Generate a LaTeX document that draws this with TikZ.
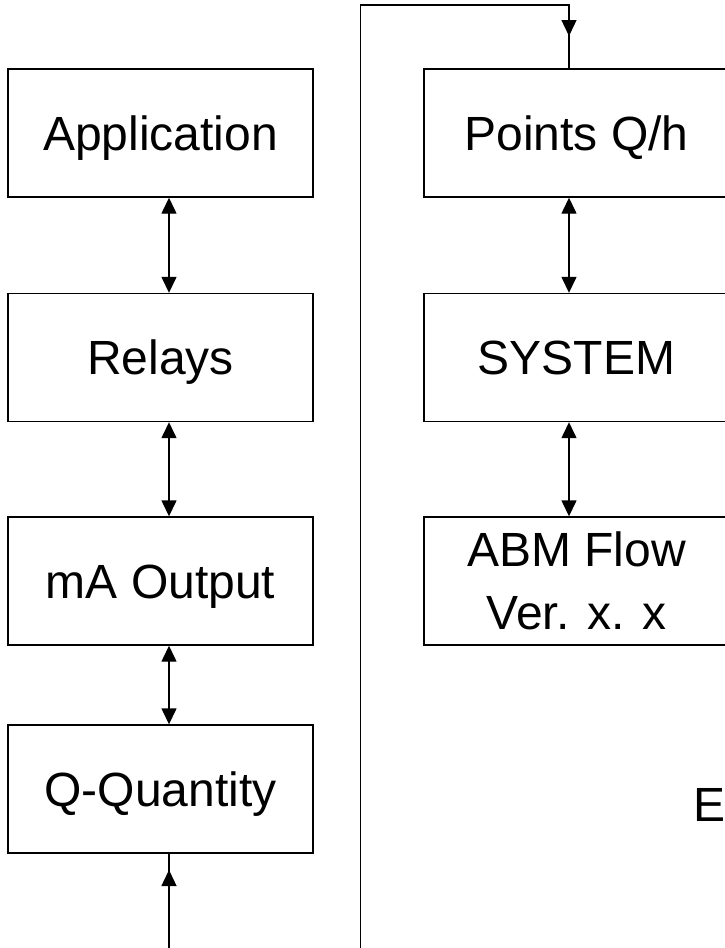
\documentclass[tikz,border=0pt]{standalone}
\usepackage{fontspec}
\setmainfont{Liberation Sans}
\usetikzlibrary{arrows.meta}
\begin{document}
\begin{tikzpicture}[x=1pt,y=-1pt,
  label font/.style={font=\fontsize{48}{63}\selectfont},
  block/.style={draw,line width=1.4pt,minimum width=305pt,minimum height=128pt,
    inner sep=0pt,align=center,label font},
  oneline/.style={block,text height=34.4pt,text depth=0pt},
  wire/.style={line width=1.4pt},
  tip/.style={wire,-{Triangle[length=16pt,width=15pt]}},
  dbl/.style={wire,{Triangle[length=16pt,width=15pt]}-{Triangle[length=16pt,width=15pt]}}]
\useasboundingbox (0,0) rectangle (725,948);

% left column
\node[oneline] (app) at (160.5,133) {Application};
\node[oneline] (rel) at (160.5,357.5) {Relays};
\node[oneline] (mao) at (160.5,581) {mA Output};
\node[oneline] (qq)  at (160.5,789) {Q-Quantity};

% right column
\node[oneline] (pts) at (576.5,133) {Points Q/h};
\node[oneline] (sys) at (576.5,357.5) {SYSTEM};
\node[block]   (abm) at (576.5,581) {ABM Flow\\Ver. x. x};

% connector columns
\coordinate (lx) at (169,0);
\coordinate (rx) at (569,0);

\draw[dbl] (app.south -| lx) -- (rel.north -| lx);
\draw[dbl] (rel.south -| lx) -- (mao.north -| lx);
\draw[dbl] (mao.south -| lx) -- (qq.north -| lx);

\draw[dbl] (pts.south -| rx) -- (sys.north -| rx);
\draw[dbl] (sys.south -| rx) -- (abm.north -| rx);

% input into Q-Quantity from below
\coordinate (qin) at (169,948);
\coordinate (qtip) at (169,870);
\draw[wire] (qin) -- (qq.south -| lx);
\draw[tip] (qin) -- (qtip);

% feedback loop into Points Q/h
\coordinate (fb0) at (360.5,948);
\coordinate (ftop) at (569,5);
\coordinate (ftip) at (569,36);
\draw[wire] (fb0) |- (ftop) -- (pts.north -| rx);
\draw[tip] (ftop) -- (ftip);

\node[anchor=base west,inner sep=0pt,label font] (e) at (693,821) {E};
\end{tikzpicture}
\end{document}
